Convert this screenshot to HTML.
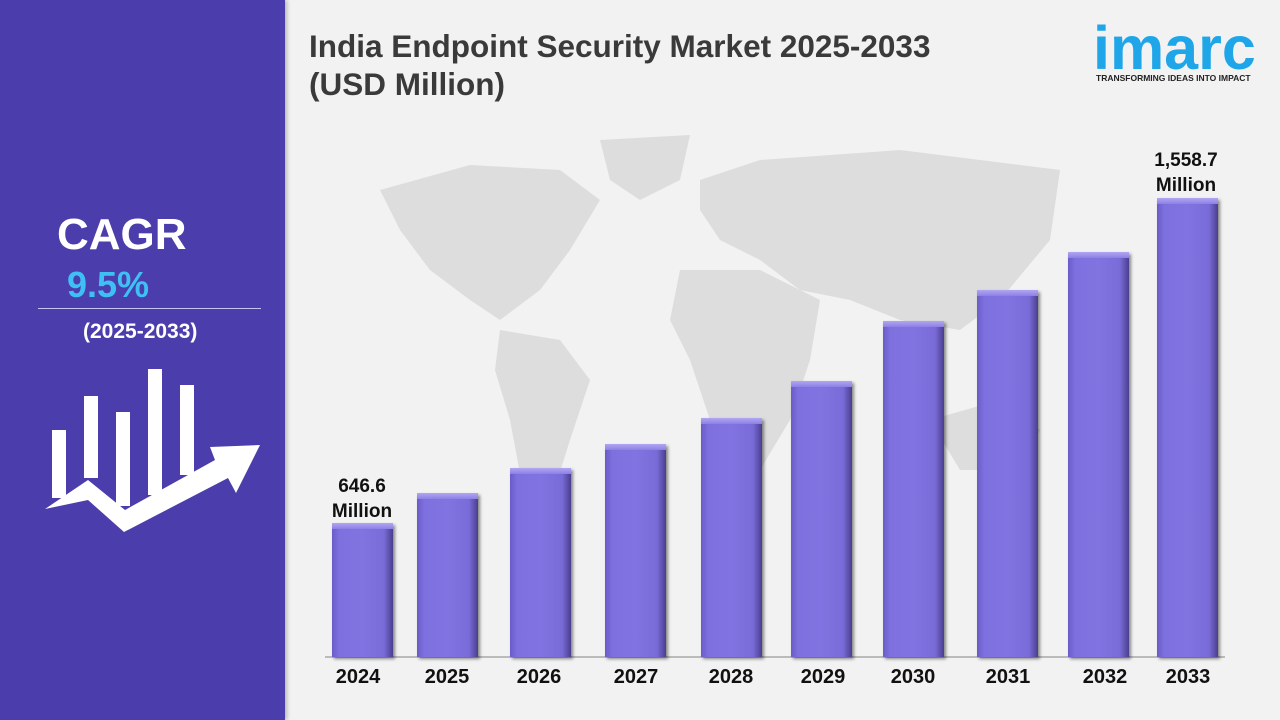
<!DOCTYPE html>
<html><head><meta charset="utf-8"><style>
body{margin:0;width:1280px;height:720px;overflow:hidden;background:#f2f2f2;font-family:"Liberation Sans",sans-serif;position:relative}
.l{position:absolute;left:0;top:0;width:285px;height:720px;background:#4b3dab;box-shadow:2px 0 4px rgba(0,0,0,.25)}
.t{position:absolute;white-space:nowrap}
.bar{position:absolute;width:61px;background:linear-gradient(90deg,#6a5cc8 0%,#7e70de 12%,#8173e0 50%,#7a6cd8 85%,#4a3e8e 100%);box-shadow:2px 2px 3px rgba(0,0,0,.45)}
.bar:before{content:"";position:absolute;left:0;right:0;top:0;height:6px;background:linear-gradient(#b0a6f2,#8d80e6)}
.yr{position:absolute;width:80px;text-align:center;font-weight:bold;font-size:20px;color:#111;top:666px}
</style></head><body>
<svg style="position:absolute;left:0;top:0" width="1280" height="720">
<g fill="#dddddd">
<path d="M380 190 L470 165 L560 170 L600 200 L570 250 L540 290 L500 320 L470 300 L430 270 L400 230Z"/>
<path d="M600 140 L690 135 L680 180 L640 200 L610 180Z"/>
<path d="M500 330 L560 340 L590 380 L570 440 L545 520 L525 500 L510 420 L495 370Z"/>
<path d="M700 180 L760 160 L900 150 L1060 170 L1050 240 L1000 300 L960 330 L900 320 L850 300 L800 290 L760 260 L720 240 L700 210Z"/>
<path d="M680 270 L760 270 L820 300 L810 360 L790 420 L760 470 L730 480 L710 420 L690 360 L670 320Z"/>
<path d="M930 420 L1000 400 L1040 430 L1020 470 L960 470Z"/>
</g>
<line x1="325" y1="657" x2="1225" y2="657" stroke="#bbb" stroke-width="2"/>
</svg>
<div class="l"></div>
<div class="t" style="left:57px;top:210px;font-size:44px;font-weight:bold;color:#fff">CAGR</div>
<div class="t" style="left:67px;top:264px;font-size:36px;font-weight:bold;color:#3fc0f5">9.5%</div>
<div style="position:absolute;left:38px;top:308px;width:223px;height:1px;background:#c9c2f0"></div>
<div class="t" style="left:83px;top:320px;font-size:21px;font-weight:bold;color:#fff">(2025-2033)</div>
<svg style="position:absolute;left:0;top:0" width="285" height="720">
<g fill="#fff">
<rect x="52" y="430" width="14" height="68"/><rect x="84" y="396" width="14" height="82"/>
<rect x="116" y="412" width="14" height="94"/><rect x="148" y="369" width="14" height="126"/>
<rect x="180" y="385" width="14" height="90"/>
<path d="M45 509 L88 480 L125 510 L215 460 L210 447 L260 445 L236 493 L228 478 L124 532 L88 500 Z"/>
</g></svg>
<div class="t" style="left:309px;top:27px;font-size:31.5px;font-weight:bold;color:#3a3a3a;line-height:38px">India Endpoint Security Market 2025-2033<br>(USD Million)</div>
<div class="t" style="left:1093px;top:18px;font-size:61px;font-weight:bold;color:#1fa6e8;line-height:60px">imarc</div>
<div class="t" style="left:1096px;top:73px;font-size:8.5px;font-weight:bold;color:#222">TRANSFORMING IDEAS INTO IMPACT</div>
<div class="bar" style="left:332px;top:523px;height:134px"></div>
<div class="bar" style="left:417px;top:493px;height:164px"></div>
<div class="bar" style="left:510px;top:468px;height:189px"></div>
<div class="bar" style="left:605px;top:444px;height:213px"></div>
<div class="bar" style="left:701px;top:418px;height:239px"></div>
<div class="bar" style="left:791px;top:381px;height:276px"></div>
<div class="bar" style="left:883px;top:321px;height:336px"></div>
<div class="bar" style="left:977px;top:290px;height:367px"></div>
<div class="bar" style="left:1068px;top:252px;height:405px"></div>
<div class="bar" style="left:1157px;top:198px;height:459px"></div>
<div class="t" style="left:322px;top:474px;width:80px;text-align:center;font-size:19px;font-weight:bold;color:#111;line-height:25px">646.6<br>Million</div>
<div class="t" style="left:1146px;top:148px;width:80px;text-align:center;font-size:19px;font-weight:bold;color:#111;line-height:25px">1,558.7<br>Million</div>
<div class="yr" style="left:318px">2024</div><div class="yr" style="left:407px">2025</div>
<div class="yr" style="left:499px">2026</div><div class="yr" style="left:596px">2027</div>
<div class="yr" style="left:691px">2028</div><div class="yr" style="left:783px">2029</div>
<div class="yr" style="left:873px">2030</div><div class="yr" style="left:968px">2031</div>
<div class="yr" style="left:1065px">2032</div><div class="yr" style="left:1148px">2033</div>
</body></html>
